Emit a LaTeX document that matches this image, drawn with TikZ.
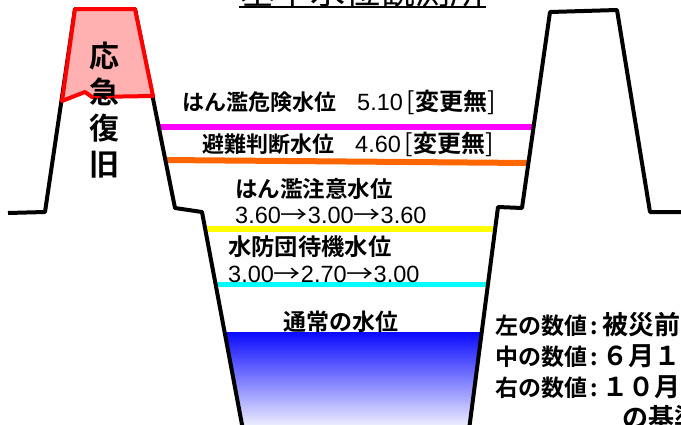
\documentclass[tikz,border=0pt]{standalone}
\usepackage{fontspec}
\setmainfont{Liberation Sans}
\newfontfamily\jp{Noto Sans CJK JP}[BoldFont={Noto Sans CJK JP Bold}]
\definecolor{water}{RGB}{10,10,255}
\definecolor{levelorange}{RGB}{255,102,0}
\definecolor{levelmagenta}{RGB}{255,0,255}
\definecolor{levelcyan}{RGB}{0,255,255}
\definecolor{levelyellow}{RGB}{255,255,0}
\definecolor{repairpink}{RGB}{255,176,176}
\newcommand\numtxt[1]{{\normalfont\mdseries\fontsize{23.5}{24}\selectfont #1}}
\newcommand\arr{{\jp\mdseries\fontsize{23.5}{24}\selectfont\scalebox{1.15}[1]{→}}}
\newcommand\nochange{{\jp\mdseries\fontsize{25}{25}\selectfont[}{\fontsize{24}{24}\selectfont 変更無}{\jp\mdseries\fontsize{25}{25}\selectfont]}}
\newcommand\notetail[1]{\hspace{3pt}:\hspace{5pt}{\fontsize{26}{31}\selectfont #1}}
\tikzset{
  bank/.style={line width=4pt,line join=round},
  lvl/.style={line width=6pt},
  jtext/.style={font=\jp\bfseries\fontsize{#1}{#1}\selectfont,inner sep=0pt,anchor=west},
  jtext/.default=22
}
\begin{document}
\begin{tikzpicture}[x=1pt,y=-1pt]
\useasboundingbox (0,0) rectangle (681,424);
\fill[white] (0,0) rectangle (681,424);
\clip (0,0) rectangle (681,424);
\shade[top color=water, bottom color=water!5] (224.7,332) -- (481.9,332) -- (469.5,428) -- (243,428) -- cycle;
\draw[lvl, levelmagenta] (157,127) -- (534,127);
\draw[lvl, levelorange] (165,160) -- (529,163);
\draw[lvl, levelyellow] (205,229) -- (495,229);
\draw[lvl, levelcyan, line width=5pt] (215,284) -- (488,284);
\draw[bank] (8,213) -- (45,212) -- (75,9) -- (135,9) -- (175,208) -- (202,212) -- (243,430);
\draw[bank] (690,212) -- (650,212) -- (617,10) -- (550,12) -- (522,208) -- (498,207) -- (469,430);
\draw[red, line width=4pt, fill=repairpink, line join=round] (62,101) -- (75,9) -- (135,9) -- (153,96) -- (92,97) -- (85,92) -- cycle;
\node[font=\jp\bfseries\fontsize{30}{36}\selectfont, align=center, inner sep=0pt] (repair) at (104,110) {応\\急\\復\\旧};
\node[jtext] (danger) at (182,102) {はん濫危険水位\hspace{21pt}\numtxt{5.10}\hspace{4pt}\nochange};
\node[jtext] (evac) at (202,144) {避難判断水位\hspace{21pt}\numtxt{4.60}\hspace{4pt}\nochange};
\node[jtext=22.5] (caution) at (235,189) {はん濫注意水位};
\node[jtext] (cautionval) at (235,215) {\numtxt{3.60}\arr\numtxt{3.00}\arr\numtxt{3.60}};
\node[jtext=23.3] (standby) at (228,247) {水防団待機水位};
\node[jtext] (standbyval) at (228,274) {\numtxt{3.00}\arr\numtxt{2.70}\arr\numtxt{3.00}};
\node[jtext=23] (normal) at (283,322) {通常の水位};
\node[jtext=23, font=\jp\bfseries\fontsize{23}{31}\selectfont, anchor=north west, align=left] (note) at (495,312)
  {左の数値\notetail{被災前の基準水位}\\中の数値\notetail{６月１日からの基準水位}\\右の数値\notetail{１０月１日から}\\\hspace*{127pt}{\fontsize{26}{31}\selectfont の基準水位}};
\node[font=\jp\fontsize{35}{35}\selectfont, anchor=base, inner sep=0pt] (title) at (363,4) {基準水位観測所};
\draw[line width=2pt] (239,7) -- (486,7);
\end{tikzpicture}
\end{document}
